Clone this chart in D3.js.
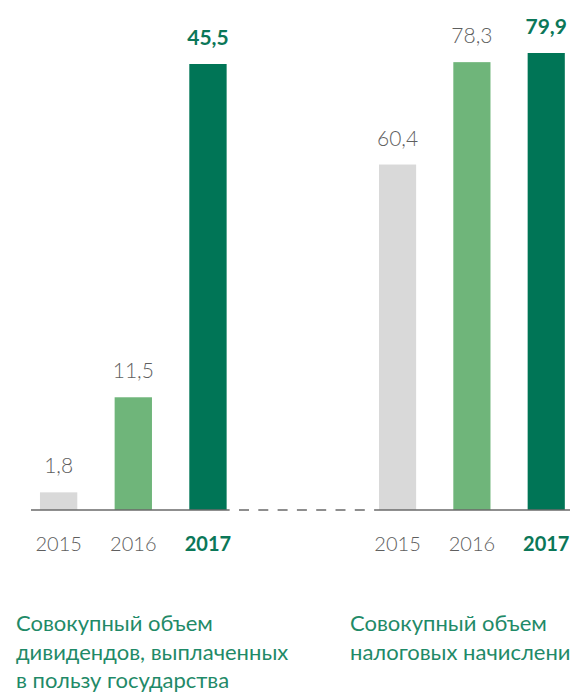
<!DOCTYPE html>
<html>
<head>
<meta charset="utf-8">
<script src="https://cdn.jsdelivr.net/npm/d3@7/dist/d3.min.js"></script>
<style>
  html, body { margin: 0; padding: 0; background: #ffffff; }
  svg { display: block; }
</style>
</head>
<body>
<svg id="chart" width="570" height="693"></svg>
<script>
// ---- data ----
const years = ["2015", "2016", "2017"];
const dividends = [1.8, 11.5, 45.5];
const taxes = [60.4, 78.3, 79.9];
const valueLabels1 = ["1,8", "11,5", "45,5"];
const valueLabels2 = ["60,4", "78,3", "79,9"];
const caption1 = ["Совокупный объем", "дивидендов, выплаченных", "в пользу государства"];
const caption2 = ["Совокупный объем", "налоговых начислений"];

// ---- styles ----
const barColors = ["#d9d9d9", "#6fb57a", "#007556"];
const font = "Lato, 'Open Sans', sans-serif";
const baseY = 510;

const svg = d3.select("#chart");

function group(values, labels, xRange, yMaxPx) {
  const x = d3.scaleBand().domain(years).range(xRange).paddingInner(0.5).paddingOuter(0.25);
  const y = d3.scaleLinear().domain([0, d3.max(values)]).range([baseY, yMaxPx]);
  const data = years.map((yr, i) => ({ yr, v: values[i], label: labels[i], i }));
  const g = svg.append("g");
  g.selectAll("rect").data(data).join("rect")
    .attr("x", d => x(d.yr))
    .attr("width", x.bandwidth())
    .attr("y", d => y(d.v))
    .attr("height", d => baseY - y(d.v))
    .attr("fill", d => barColors[d.i]);
  g.selectAll("text.val").data(data).join("text")
    .attr("class", "val")
    .attr("x", d => x(d.yr) + x.bandwidth() / 2)
    .attr("y", d => y(d.v) - 19)
    .attr("text-anchor", "middle")
    .attr("font-family", font)
    .attr("font-size", 21)
    .attr("font-weight", d => d.i === 2 ? 700 : 300)
    .attr("fill", d => d.i === 2 ? "#0b7758" : "#5e5e5e")
    .text(d => d.label);
  // year axis labels
  const axis = d3.axisBottom(x).tickSize(0).tickPadding(0);
  const ag = g.append("g").attr("transform", `translate(0,${baseY})`).call(axis);
  ag.select(".domain").remove();
  ag.selectAll(".tick text")
    .attr("y", 41)
    .attr("dy", null)
    .attr("font-family", font)
    .attr("font-size", 20)
    .attr("font-weight", (d, i) => i === 2 ? 700 : 300)
    .attr("fill", (d, i) => i === 2 ? "#0b7758" : "#5e5e5e");
  return x;
}

const x1 = group(dividends, valueLabels1, [21.3, 245.3], 64);
const x2 = group(taxes, valueLabels2, [360.4, 583.4], 53);

// baselines
const axisColor = "#6a6a6a";
svg.append("line")
  .attr("x1", 31).attr("x2", x1("2017") + x1.bandwidth() + 3)
  .attr("y1", baseY).attr("y2", baseY)
  .attr("stroke", axisColor).attr("stroke-width", 1.3);
svg.append("line")
  .attr("x1", 239).attr("x2", x2("2015") - 2)
  .attr("y1", baseY).attr("y2", baseY)
  .attr("stroke", axisColor).attr("stroke-width", 1.3)
  .attr("stroke-dasharray", "10,9.3");
svg.append("line")
  .attr("x1", x2("2015") - 2).attr("x2", 570)
  .attr("y1", baseY).attr("y2", baseY)
  .attr("stroke", axisColor).attr("stroke-width", 1.3);

// captions
function caption(lines, x) {
  svg.append("text")
    .attr("font-family", font)
    .attr("font-size", 22)
    .attr("fill", "#1f8a68")
    .selectAll("tspan").data(lines).join("tspan")
    .attr("x", x)
    .attr("y", (d, i) => 631 + i * 28.5)
    .text(d => d);
}
caption(caption1, 16);
caption(caption2, 350);
</script>
</body>
</html>
